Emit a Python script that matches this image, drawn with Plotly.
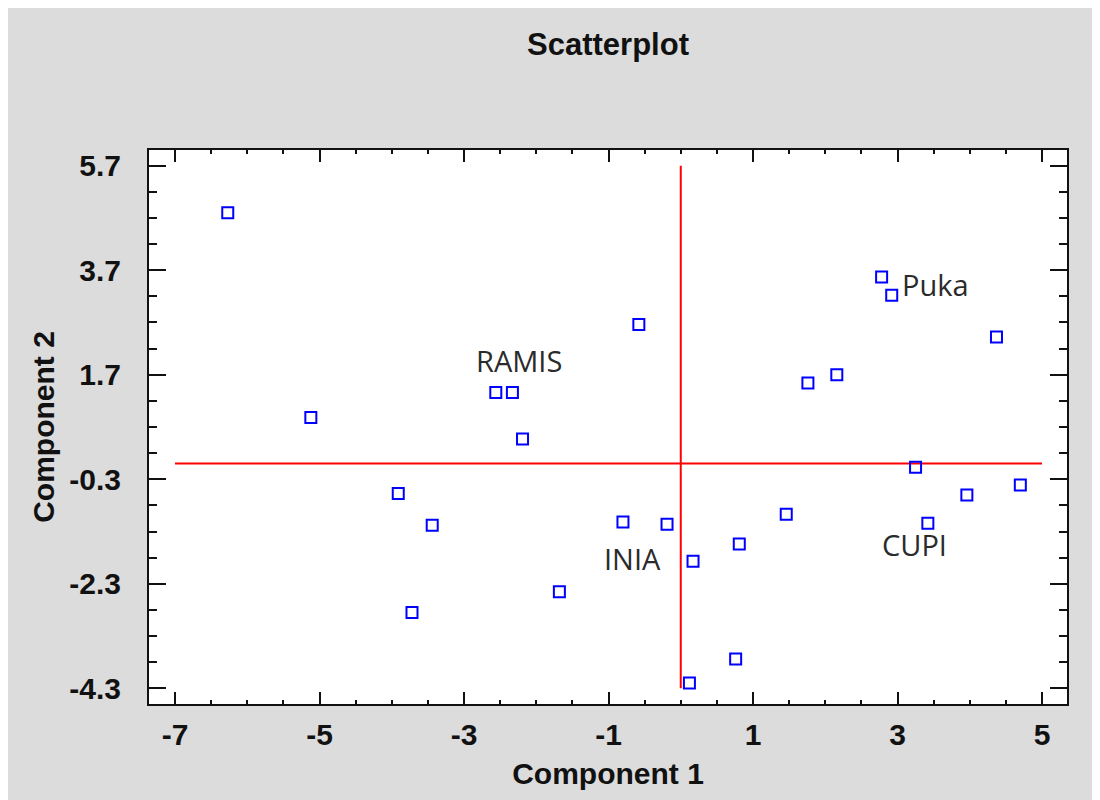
import plotly.graph_objects as go

# ---- data ----
comp1 = [-6.27, -5.12, -3.91, -3.44, -3.72, -2.56, -2.33, -2.19, -1.68, -0.58,
         -0.80, -0.19, 0.17, 0.12, 0.76, 0.81, 1.46, 1.76, 2.16, 2.78,
         2.92, 3.25, 3.42, 3.96, 4.37, 4.70]
comp2 = [4.80, 0.88, -0.57, -1.18, -2.85, 1.36, 1.36, 0.47, -2.45, 2.66,
         -1.12, -1.16, -1.87, -4.20, -3.74, -1.54, -0.97, 1.54, 1.70, 3.57,
         3.22, -0.07, -1.14, -0.60, 2.42, -0.41]

label_names = ["RAMIS", "Puka", "INIA", "CUPI"]
label_x = [-2.24, 3.52, -0.67, 3.24]
label_y = [1.97, 3.42, -1.82, -1.55]

x_ticks = [-7, -5, -3, -1, 1, 3, 5]
x_tick_text = ["-7", "-5", "-3", "-1", "1", "3", "5"]
y_ticks = [5.7, 3.7, 1.7, -0.3, -2.3, -4.3]
y_tick_text = ["5.7", "3.7", "1.7", "-0.3", "-2.3", "-4.3"]

# reference cross at the origin
hline_x = [-7, 5]
hline_y = [0, 0]
vline_x = [0, 0]
vline_y = [-4.3, 5.7]

fig = go.Figure()

fig.add_trace(go.Scatter(x=hline_x, y=hline_y, mode="lines",
                         line=dict(color="#ff0000", width=2),
                         showlegend=False, hoverinfo="skip"))
fig.add_trace(go.Scatter(x=vline_x, y=vline_y, mode="lines",
                         line=dict(color="#ff0000", width=2),
                         showlegend=False, hoverinfo="skip"))
fig.add_trace(go.Scatter(x=comp1, y=comp2, mode="markers",
                         marker=dict(symbol="square-open", size=11, color="#0000ff",
                                     line=dict(width=2, color="#0000ff")),
                         showlegend=False))

for name, lx, ly in zip(label_names, label_x, label_y):
    fig.add_annotation(x=lx, y=ly, text=name, showarrow=False,
                       font=dict(family="Open Sans", size=29, color="#2b2b2b"),
                       xanchor="center", yanchor="middle")

tickfont = dict(family="Liberation Sans", size=30, color="#111111", weight="bold")
titlefont = dict(family="Liberation Sans", size=30, color="#111111", weight="bold")

fig.update_layout(
    width=1100, height=800,
    margin=dict(l=141, r=41, t=142, b=104),
    paper_bgcolor="#dcdcdc",
    plot_bgcolor="#ffffff",
    title=dict(text="Scatterplot", x=0.5, xref="paper", y=1 - 36 / 800,
               yanchor="middle", xanchor="center",
               font=dict(family="Liberation Sans", size=31, color="#111111", weight="bold")),
    xaxis=dict(range=[-7.36, 5.346], tickvals=x_ticks, ticktext=x_tick_text,
               ticks="inside", ticklen=12,
               tickwidth=2, tickcolor="#111111", showline=True, linewidth=2,
               linecolor="#111111", mirror="allticks", showgrid=False, zeroline=False,
               tickfont=tickfont, ticklabelstandoff=3,
               title=dict(text="Component 1", font=titlefont, standoff=13),
               minor=dict(dtick=0.5, tick0=0, ticks="inside", ticklen=4, tickwidth=1.5,
                          tickcolor="#111111", showgrid=False)),
    yaxis=dict(range=[-4.6, 6.0], tickvals=y_ticks, ticktext=y_tick_text,
               ticks="inside", ticklen=17,
               tickwidth=2, tickcolor="#111111", showline=True, linewidth=2,
               linecolor="#111111", mirror="allticks", showgrid=False, zeroline=False,
               tickfont=tickfont, ticklabelstandoff=20,
               title=dict(text="Component 2", font=titlefont, standoff=6),
               minor=dict(dtick=0.5, tick0=0.2, ticks="inside", ticklen=8, tickwidth=1.5,
                          tickcolor="#111111", showgrid=False)),
)

fig.write_html("out.html")
